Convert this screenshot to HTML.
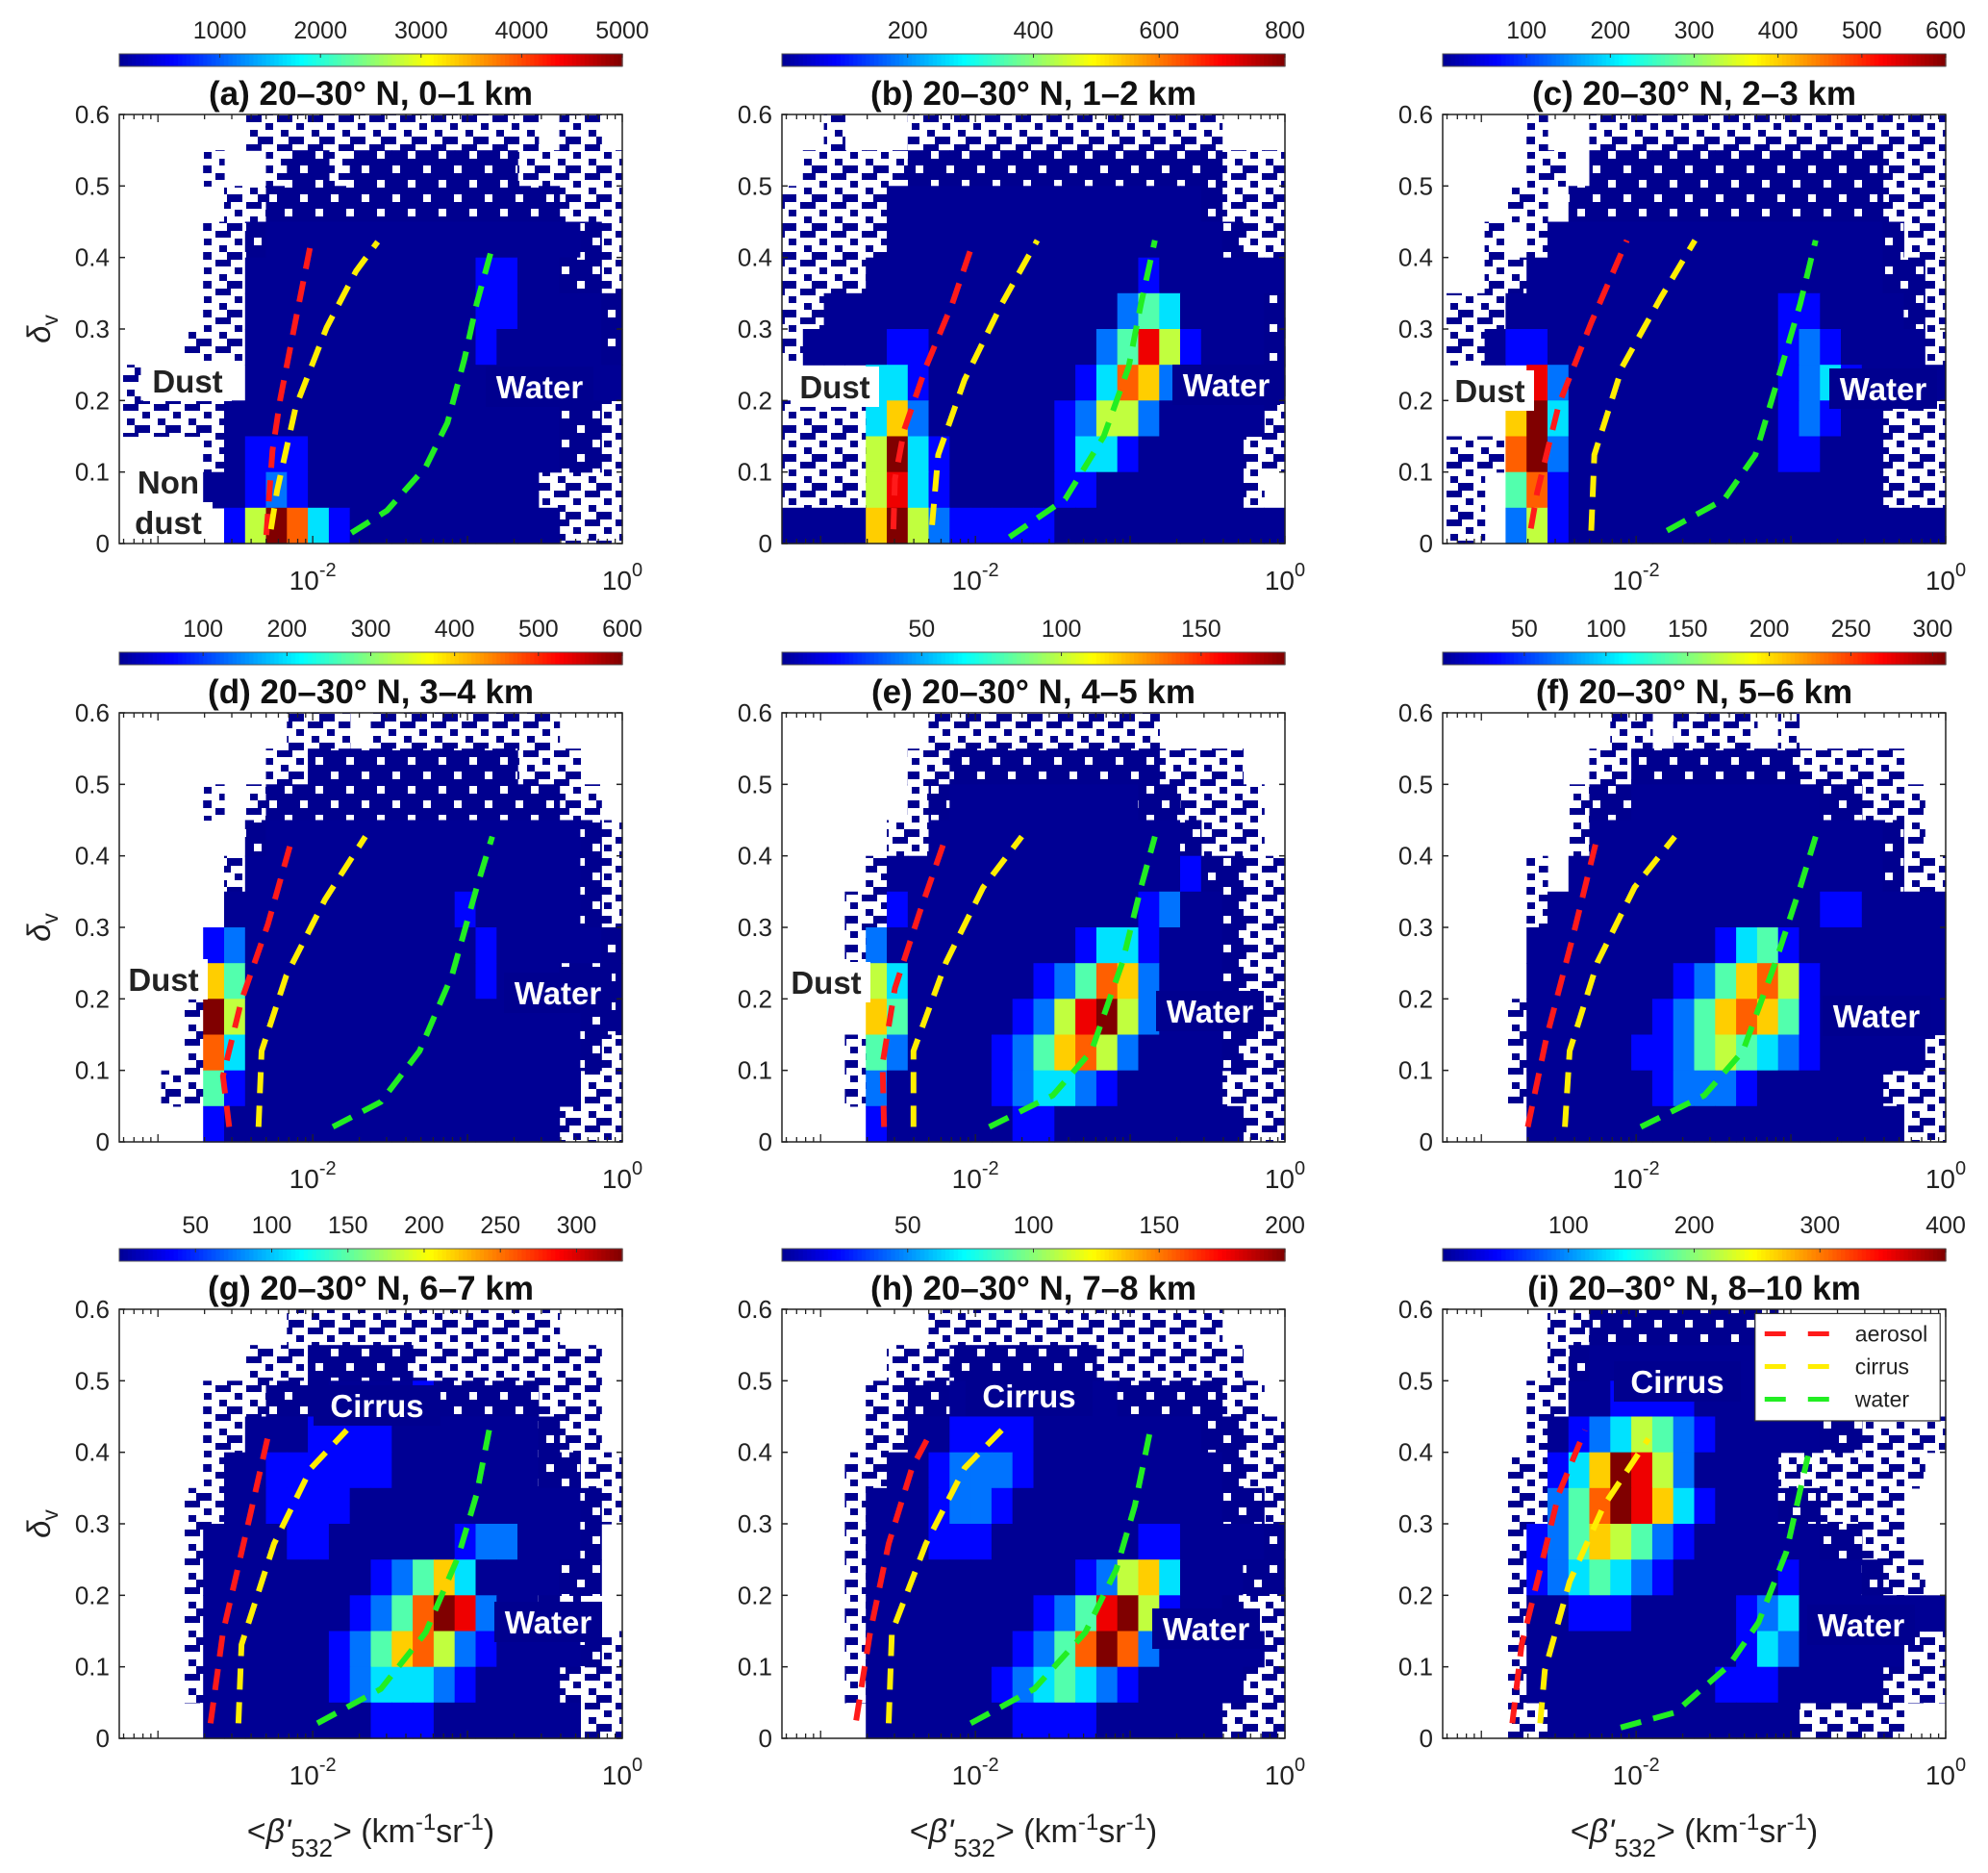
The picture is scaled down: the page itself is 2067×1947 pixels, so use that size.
<!DOCTYPE html>
<html><head><meta charset="utf-8"><title>Depolarization vs backscatter histograms</title>
<style>
html,body{margin:0;padding:0;background:#fff;}
svg{display:block;font-family:"Liberation Sans",Arial,sans-serif;}
</style></head>
<body>
<svg id="fig" width="2067" height="1947" viewBox="0 0 2067 1947" xmlns="http://www.w3.org/2000/svg">
<defs>
<pattern id="sparse" width="32" height="30" patternUnits="userSpaceOnUse">
<rect x="0" y="0" width="16" height="7" fill="#00008f"/>
<rect x="20" y="8" width="8" height="7" fill="#00008f"/>
<rect x="4" y="15" width="8" height="7" fill="#00008f"/>
<rect x="12" y="22" width="16" height="8" fill="#00008f"/>
</pattern>
<pattern id="dense" width="32" height="30" patternUnits="userSpaceOnUse">
<rect x="0" y="0" width="32" height="30" fill="#00008f"/>
<rect x="8" y="7" width="8" height="8" fill="#fff"/>
<rect x="24" y="22" width="8" height="8" fill="#fff"/>
</pattern>
</defs>
</svg>
<script>
// ---------- data ----------
const panelTitles = ["(a) 20–30° N, 0–1 km","(b) 20–30° N, 1–2 km","(c) 20–30° N, 2–3 km","(d) 20–30° N, 3–4 km","(e) 20–30° N, 4–5 km","(f) 20–30° N, 5–6 km","(g) 20–30° N, 6–7 km","(h) 20–30° N, 7–8 km","(i) 20–30° N, 8–10 km"];
const cbMax = [5000,800,600,600,180,308,330,200,400];
const cbTicks = [[1000,2000,3000,4000,5000],[200,400,600,800],[100,200,300,400,500,600],[100,200,300,400,500,600],[50,100,150],[50,100,150,200,250,300],[50,100,150,200,250,300],[50,100,150,200],[100,200,300,400]];
const yTicks = [0,0.1,0.2,0.3,0.4,0.5,0.6];
// histogram levels: '.' empty, ':' sparse bins, ';' dense bins, 0-9 = level/9 of colour max
const grid_a = ["......::::::::::::::.::","....:..:;;:;;;;;;;;:::::",".....::;;;;;;;;;;;;;;:::","....::;000000000000000;:","....::000000000001100;;:","....::00000000000110000;","...:::00000000000100000;",":.....000000000000000000",":::::0000000000000000;;:","....:0111000000000000;;:","....0012100000000000::::",".....1597310000000000:::"];
const grid_b = ["..:...:::::::::::::::...",".:::::;;;;;;;;;;;;;;;:::",":::::000000000000000;:::",":::::0000000000000000;::","::::00000000000001000000","::000000000000002430000;",":0000110000000024851000;","....3310000000137620000;","::::3620000001255200000:","::::593100000133100000::","::::583100000110000000:.","000069521111100000000000"];
const grid_c = ["....:..:::::::::::::::::","....::.;;;;;;;;;;;;;;:::","...::.;;;;;;;;;;;;;;;:::","..:.:0000000000000000;::","..::00000000000000000;;:",":::0000000000000110000;:","::011000000000001210000:","....82000000000012310000","...693000000000012100:::",":::792000000000011000:::","::.471000000000000000:::","::.251000000000000000000"];
const grid_d = ["........:::.:::::::::...",".......::;;;;;;;;;;:::..","....:.:;;;;;;;;;;;;;;::.","......;000000000000000;:",".....:0000000000000000;:",".....00000000000100000;:","....1200000000000100000;","....64000000000001000;;;","...:950000000000000000;;","...:730000000000000000;:","..::410000000000000000::","....10000000000000000:::"];
const grid_e = [".......:::::::::::......","......::;;;;;;;;;;::::..","......:;000000000;;::::.",".....::000000000000;:::.","....:000000000000001;;::","...::1000000000001200;::","...:20000000001331000;::","....53000000124762000;::","....64000001258952000;::","...:42000012467520000;::","...:20000012332100000:::","....100000011000000000::"];
const grid_f = ["........::.::::.:.......",".......::;;;;;;;;:::::..","......:;;000000000;;:::.","......:00000000000000;:.","....:.000000000000000;::","....:0000000000000110000","....000000000134100000000","....000000012467510000000","...:000000124676410000000","...:0000011245432100000:","...:00000012221000000:::","....000000000000000000::"];
const grid_g = ["........:::::::::::::...","......:::;;;;;:::::::::.","....:::;;;00001;;;;;:::.","....::00011110000000;::.","....:001111110000000;;::","...::00111100000000000;:","...:000011000000122000;","...:00000000124630000;;","...:0000000124798200;::","...:000000124675210000;:","...:00000012333210000:::","....000000001110000000::"];
const grid_h = [".......::::::::::::::...",".....:::;;;;;;;:::::::..","....::;;00000000;;;;;::.","....::00111100000000;;::","...::0012221000000000;::","...:00012210000000000;;:","...:0001110000000110000;","...:000000000012563000;;","...:00000000124895100;::","...:0000000124797200000:","...:000000123432100000::","....00000001111000000:::"];
const grid_i = [".....::;;;;;;;;;........",".....:;00000000;........","....::001111000;........","....:0123542100000;;::::","...::13698520000:::::::","...::24798631000;;::::","...:12465421000000;;::","...:1234321000001000;::.","...:00111000001230000000","...:000000000013200000::","...:00000000011100000:::","...::000000000000:::::.."];
const grids = [grid_a,grid_b,grid_c,grid_d,grid_e,grid_f,grid_g,grid_h,grid_i];
// boundary curves: log10(beta) and depolarization
const redX_a=[-2.30,-2.26,-2.21,-2.11,-2.01], redY_a=[0.012,0.13,0.202,0.313,0.422];
const yelX_a=[-2.27,-2.23,-2.11,-1.91,-1.72,-1.58], yelY_a=[0.02,0.074,0.191,0.302,0.381,0.422];
const grnX_a=[-1.75,-1.52,-1.27,-1.13,-1.02,-0.94,-0.83], grnY_a=[0.015,0.046,0.107,0.169,0.258,0.336,0.422];
const redX_b=[-2.53,-2.52,-2.46,-2.32,-2.15,-2.01], redY_b=[0.02,0.09,0.159,0.247,0.335,0.424];
const yelX_b=[-2.28,-2.24,-2.07,-1.83,-1.60], yelY_b=[0.026,0.124,0.229,0.335,0.424];
const grnX_b=[-1.78,-1.42,-1.17,-1.01,-0.93,-0.84], grnY_b=[0.009,0.062,0.15,0.247,0.335,0.424];
const redX_c=[-2.68,-2.64,-2.50,-2.29,-2.06], redY_c=[0.021,0.071,0.194,0.309,0.424];
const yelX_c=[-2.29,-2.27,-2.09,-1.84,-1.62], yelY_c=[0.018,0.124,0.247,0.344,0.424];
const grnX_c=[-1.80,-1.43,-1.23,-1.06,-0.94,-0.84], grnY_c=[0.018,0.062,0.124,0.247,0.335,0.424];
const redX_d=[-2.54,-2.58,-2.46,-2.29,-2.13], redY_d=[0.021,0.092,0.198,0.304,0.427];
const yelX_d=[-2.35,-2.33,-2.17,-1.92,-1.66], yelY_d=[0.021,0.127,0.233,0.339,0.427];
const grnX_d=[-1.87,-1.56,-1.31,-1.10,-0.94,-0.84], grnY_d=[0.021,0.056,0.127,0.233,0.356,0.427];
const redX_e=[-2.59,-2.60,-2.52,-2.36,-2.19], redY_e=[0.021,0.109,0.215,0.321,0.427];
const yelX_e=[-2.40,-2.40,-2.19,-1.95,-1.70], yelY_e=[0.021,0.127,0.251,0.356,0.427];
const grnX_e=[-1.91,-1.50,-1.25,-1.05,-0.93,-0.84], grnY_e=[0.021,0.065,0.127,0.251,0.356,0.427];
const redX_f=[-2.70,-2.58,-2.41,-2.25], redY_f=[0.021,0.145,0.286,0.427];
const yelX_f=[-2.46,-2.43,-2.25,-2.01,-1.75], yelY_f=[0.021,0.127,0.251,0.356,0.427];
const grnX_f=[-1.97,-1.56,-1.31,-1.10,-0.94,-0.84], grnY_f=[0.021,0.065,0.127,0.251,0.356,0.427];
const redX_g=[-2.66,-2.58,-2.41,-2.28], redY_g=[0.021,0.148,0.307,0.431];
const yelX_g=[-2.48,-2.46,-2.25,-2.01,-1.78], yelY_g=[0.021,0.131,0.272,0.378,0.431];
const grnX_g=[-1.97,-1.56,-1.27,-1.06,-0.94,-0.86], grnY_g=[0.021,0.069,0.148,0.254,0.342,0.431];
const redX_h=[-2.77,-2.68,-2.56,-2.41,-2.28], redY_h=[0.025,0.148,0.272,0.378,0.431];
const yelX_h=[-2.56,-2.54,-2.32,-2.07,-1.83], yelY_h=[0.021,0.148,0.272,0.378,0.431];
const grnX_h=[-2.03,-1.62,-1.29,-1.09,-0.97,-0.87], grnY_h=[0.021,0.069,0.148,0.236,0.325,0.431];
const redX_i=[-2.80,-2.74,-2.62,-2.50,-2.33], redY_i=[0.021,0.131,0.236,0.342,0.431];
const yelX_i=[-2.62,-2.59,-2.43,-2.21,-1.92], yelY_i=[0.021,0.095,0.219,0.325,0.419];
const grnX_i=[-2.10,-1.75,-1.40,-1.21,-1.03,-0.89], grnY_i=[0.015,0.036,0.102,0.162,0.26,0.395];
const curvesX=[[redX_a,yelX_a,grnX_a],[redX_b,yelX_b,grnX_b],[redX_c,yelX_c,grnX_c],[redX_d,yelX_d,grnX_d],[redX_e,yelX_e,grnX_e],[redX_f,yelX_f,grnX_f],[redX_g,yelX_g,grnX_g],[redX_h,yelX_h,grnX_h],[redX_i,yelX_i,grnX_i]];
const curvesY=[[redY_a,yelY_a,grnY_a],[redY_b,yelY_b,grnY_b],[redY_c,yelY_c,grnY_c],[redY_d,yelY_d,grnY_d],[redY_e,yelY_e,grnY_e],[redY_f,yelY_f,grnY_f],[redY_g,yelY_g,grnY_g],[redY_h,yelY_h,grnY_h],[redY_i,yelY_i,grnY_i]];
const curveNames=["aerosol","cirrus","water"];
const curveColors=["#ff1a1a","#ffee00","#22ee22"];
// region annotations [text, dx, dy, dark?]
const annots=[
 [["Dust",71,277,1],["Non",51,382,1],["dust",51,424,1],["Water",437,283,0]],
 [["Dust",55,283,1],["Water",462,281,0]],
 [["Dust",49,287,1],["Water",458,285,0]],
 [["Dust",46,277,1],["Water",456,291,0]],
 [["Dust",46,280,1],["Water",445,310,0]],
 [["Water",451,315,0]],
 [["Cirrus",268,100,0],["Water",446,325,0]],
 [["Cirrus",257,90,0],["Water",441,332,0]],
 [["Cirrus",244,75,0],["Water",435,328,0]]
];
// ---------- layout ----------
const colLeft=[124,813,1500], rowTop=[119,741,1361], PW=523, PH=446;
const XMIN=-3.25, XMAX=0, YMAX=0.6, NC=24, NR=12;
const NS="http://www.w3.org/2000/svg";
const svg=document.getElementById('fig');
function mk(tag,attrs,parent){const e=document.createElementNS(NS,tag);for(const k in attrs)e.setAttribute(k,attrs[k]);(parent||svg).appendChild(e);return e;}
function jet(t){const c=v=>Math.max(0,Math.min(1,v));const r=c(1.5-Math.abs(4*t-3)),g=c(1.5-Math.abs(4*t-2)),b=c(1.5-Math.abs(4*t-1));return `rgb(${Math.round(r*255)},${Math.round(g*255)},${Math.round(b*255)})`;}

for(let p=0;p<9;p++){
  const L=colLeft[p%3], T=rowTop[Math.floor(p/3)];
  const xs=v=>L+(v-XMIN)/(XMAX-XMIN)*PW;
  const ys=v=>T+PH-v/YMAX*PH;
  const g=mk('g',{});
  
  
  // heatmap
  const hm=mk('g',{},g);
  
  
  const rows=grids[p];
  for(let r=0;r<NR;r++){
    const row=(rows[r]||'').padEnd(NC,'.').slice(0,NC);
    for(let c=0;c<NC;c++){
      const ch=row[c]; if(ch==='.')continue;
      const x0=xs(XMIN+c*(XMAX-XMIN)/NC), x1=xs(XMIN+(c+1)*(XMAX-XMIN)/NC);
      const y0=ys(YMAX-r*YMAX/NR), y1=ys(YMAX-(r+1)*YMAX/NR);
      let fill;
      if(ch===':')fill='url(#sparse)';else if(ch===';')fill='url(#dense)';
      else{const val=(+ch)/9*cbMax[p];fill=jet(0.02+0.98*val/cbMax[p]);}
      const cell=mk('rect',{x:x0.toFixed(1),y:y0.toFixed(1),width:(x1-x0+0.6).toFixed(1),height:(y1-y0+0.6).toFixed(1),fill:fill},hm);
      
      
    }
  }
  // curves
  for(let k=0;k<3;k++){
    const X=curvesX[p][k],Y=curvesY[p][k];
    const pts=X.map((v,i)=>xs(v).toFixed(1)+','+ys(Y[i]).toFixed(1)).join(' ');
    const pl=mk('polyline',{points:pts,fill:'none',stroke:curveColors[k],'stroke-width':6,'stroke-dasharray':'22 13'},g);
    
    
  }
  // annotations
  annots[p].forEach(a=>{
    const bw=a[0].length*20+12;
    const bg=mk('rect',{x:L+a[1]-bw/2,y:T+a[2]-21,width:bw,height:42,fill:a[3]?'#fff':'#00008f'},g);
    
    
    const t=mk('text',{x:L+a[1],y:T+a[2]+12,'text-anchor':'middle','font-size':33,'font-weight':'bold',fill:a[3]?'#222':'#fff'},g);
    t.textContent=a[0];
    
    
  });
  // axes box
  const box=mk('rect',{x:L,y:T,width:PW,height:PH,fill:'none',stroke:'#222','stroke-width':1.5},g);
  
  
  // y ticks
  yTicks.forEach(v=>{
    const y=ys(v);
    mk('line',{x1:L,x2:L+6,y1:y,y2:y,stroke:'#222','stroke-width':1.5},g);
    mk('line',{x1:L+PW,x2:L+PW-6,y1:y,y2:y,stroke:'#222','stroke-width':1.5},g);
    const t=mk('text',{x:L-10,y:y+9,'text-anchor':'end','font-size':26,fill:'#222'},g);
    t.textContent=String(v);
    
    
  });
  // x ticks (log)
  for(let d=-4;d<=0;d++){for(let m=1;m<=9;m++){
    const v=d+Math.log10(m); if(v<XMIN-1e-9||v>XMAX+1e-9)continue;
    const x=xs(v),len=m===1?8:5;
    mk('line',{x1:x,x2:x,y1:T+PH,y2:T+PH-len,stroke:'#222','stroke-width':1.3},g);
    mk('line',{x1:x,x2:x,y1:T,y2:T+len,stroke:'#222','stroke-width':1.3},g);
  }}
  [-2,0].forEach(e=>{
    const t=mk('text',{x:xs(e),y:T+PH+48,'text-anchor':'middle','font-size':28,fill:'#222'},g);
    
    
    const a=mk('tspan',{},t);a.textContent='10';
    const b=mk('tspan',{dy:-14,'font-size':20},t);b.textContent=String(e);
  });
  // colorbar
  const cb=mk('g',{},g);
  
  
  const N=120;
  for(let i=0;i<N;i++){mk('rect',{x:L+i*PW/N,y:T-63,width:PW/N+0.7,height:13,fill:jet(0.02+0.98*(i+0.5)/N)},cb);}
  mk('rect',{x:L,y:T-63,width:PW,height:13,fill:'none',stroke:'#555','stroke-width':1},cb);
  cbTicks[p].forEach(v=>{
    const x=L+v/cbMax[p]*PW;
    mk('line',{x1:x,x2:x,y1:T-63,y2:T-59,stroke:'#333','stroke-width':1},cb);
    const t=mk('text',{x:x,y:T-79,'text-anchor':'middle','font-size':25,fill:'#222'},cb);
    t.textContent=String(v);
    
    
  });
  // title
  const tt=mk('text',{x:L+PW/2,y:T-10,'text-anchor':'middle','font-size':35,'font-weight':'bold',fill:'#111'},g);
  tt.textContent=panelTitles[p];
  
  
  // y label
  if(p%3===0){
    const yl=mk('text',{x:0,y:0,'font-size':33,fill:'#222','text-anchor':'middle',transform:`translate(52,${T+PH/2}) rotate(-90)`},g);
    
    
    const a=mk('tspan',{'font-style':'italic'},yl);a.textContent='δ';
    const b=mk('tspan',{dy:8,'font-size':23},yl);b.textContent='v';
  }
  // x label
  if(p>=6){
    const xl=mk('text',{x:L+PW/2,y:1915,'font-size':34,fill:'#222','text-anchor':'middle'},g);
    
    
    const parts=[['<',0,34,''],["β'",0,34,'italic'],['532',15,26,''],['> (km',-15,34,''],['-1',-13,24,''],['sr',13,34,''],['-1',-13,24,''],[')',13,34,'']];
    parts.forEach(q=>{const s=mk('tspan',{dy:q[1],'font-size':q[2]},xl);if(q[3])s.setAttribute('font-style',q[3]);s.textContent=q[0];});
  }
  // legend in panel i
  if(p===8){
    const lg=mk('g',{},g);
    
    
    const lx=xs(XMIN+0.621*(XMAX-XMIN)), rx=xs(XMIN+0.989*(XMAX-XMIN));
    mk('rect',{x:lx,y:ys(0.594),width:rx-lx,height:ys(0.444)-ys(0.594),fill:'#fff',stroke:'#333','stroke-width':1.2},lg);
    for(let k=0;k<3;k++){
      const yy=ys(0.594)+21+k*34;
      const e=mk('g',{},lg);
      
      
      mk('line',{x1:lx+10,x2:lx+78,y1:yy,y2:yy,stroke:curveColors[k],'stroke-width':5,'stroke-dasharray':'22 23'},e);
      const t=mk('text',{x:lx+104,y:yy+8,'font-size':23,fill:'#222'},e);t.textContent=curveNames[k];
    }
  }
}
</script>
</body></html>
